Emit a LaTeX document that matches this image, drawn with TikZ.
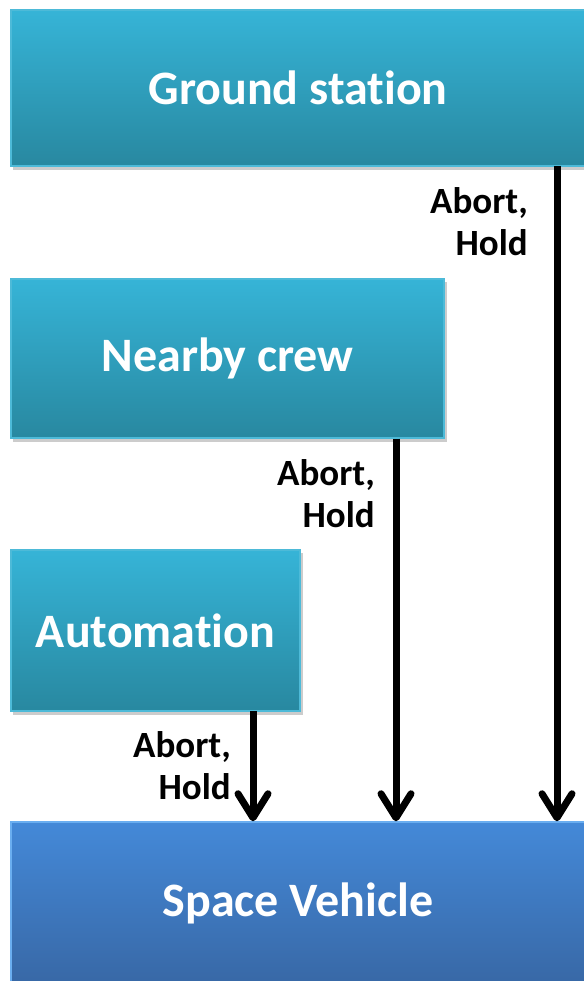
\documentclass[tikz,border=0pt]{standalone}
\usepackage{fontspec}
\setmainfont[Ligatures=NoCommon]{Carlito}
\usetikzlibrary{arrows.meta}
\definecolor{tealtop}{HTML}{36B4D7}
\definecolor{tealbot}{HTML}{2888A0}
\definecolor{tealedge}{HTML}{4DBAD8}
\definecolor{bluetop}{HTML}{4489D8}
\definecolor{bluebot}{HTML}{3868A6}
\definecolor{blueedge}{HTML}{6AAEF0}
\tikzset{
  tealbox/.style={rectangle, inner sep=0pt, top color=tealtop, bottom color=tealbot,
    draw=tealedge, line width=1.5pt, text=white, font=\bfseries\fontsize{48}{52}\selectfont},
  bluebox/.style={rectangle, inner sep=0pt, top color=bluetop, bottom color=bluebot,
    draw=blueedge, line width=1.5pt, text=white, font=\bfseries\fontsize{48}{52}\selectfont},
  flow/.style={line width=7pt, -{Straight Barb[length=24pt,width=30pt,line cap=round,round]}},
  lbl/.style={align=right, font=\bfseries\fontsize{37}{42}\selectfont, inner sep=0pt, anchor=north east}
}
\begin{document}
\begin{tikzpicture}[x=1pt,y=-1pt]
\useasboundingbox (0,0) rectangle (583,981);
% shadows
\fill[black!20] (13,13) rectangle (589,170);
\fill[black!20] (13,282) rectangle (447,442);
\fill[black!20] (13,553) rectangle (303,715);
\node[tealbox, minimum width=574pt, minimum height=156pt] (gs) at (298,88) {Ground station};
\node[tealbox, minimum width=433pt, minimum height=159pt] (nc) at (227.5,358.5) {Nearby crew};
\node[tealbox, minimum width=289pt, minimum height=161pt] (au) at (155.5,630.5) {Automation};
\node[bluebox, minimum width=574pt, minimum height=162pt] (sv) at (298,903) {Space Vehicle};
\coordinate (a1) at (253,711);
\coordinate (a2) at (396,438.5);
\coordinate (a3) at (557,166);
\draw[flow] (a1) -- (a1 |- sv.north);
\draw[flow] (a2) -- (a2 |- sv.north);
\draw[flow] (a3) -- (a3 |- sv.north);
\node[lbl] (l3) at (528,187) {Abort,\\Hold};
\node[lbl] (l2) at (375,459) {Abort,\\Hold};
\node[lbl] (l1) at (231,731) {Abort,\\Hold};
\end{tikzpicture}
\end{document}
